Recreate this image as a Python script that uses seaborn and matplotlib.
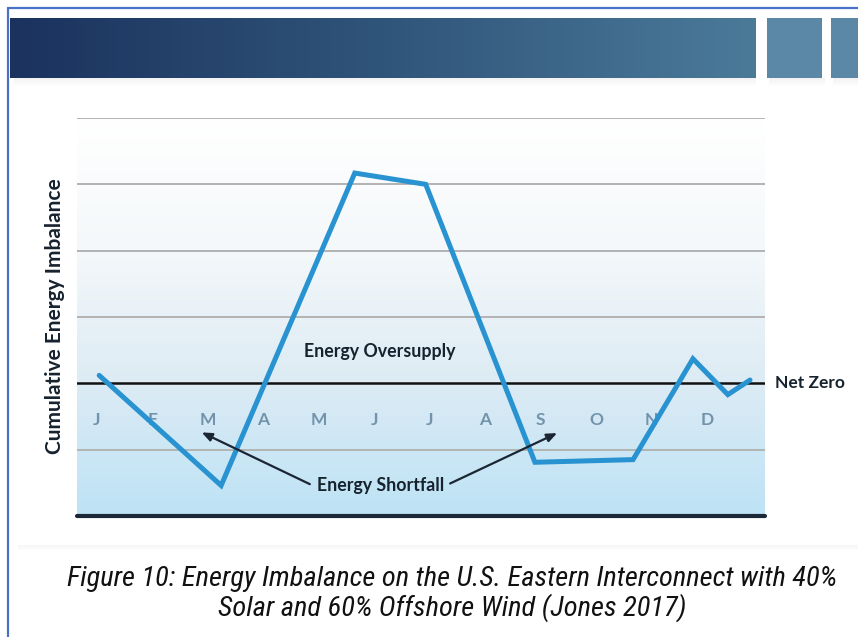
import numpy as np
import pandas as pd
import matplotlib
matplotlib.use("Agg")
import matplotlib.pyplot as plt
import matplotlib.transforms as mtrans
from matplotlib import font_manager
from matplotlib.colors import LinearSegmentedColormap
from matplotlib.patches import Rectangle
import seaborn as sns

# ---- data ----
months = ["J", "F", "M", "A", "M", "J", "J", "A", "S", "O", "N", "D"]
month_pos = [0, 1, 2, 3, 4, 5, 6, 7, 8, 9, 10, 11]
line_x = [0.04, 2.24, 4.65, 5.93, 7.90, 9.67, 10.75, 11.38, 11.78]
line_y = [0.12, -1.54, 3.17, 3.00, -1.19, -1.15, 0.37, -0.17, 0.05]
grid_levels = [-1, 1, 2, 3, 4]
net_zero = 0
ylabel = "Cumulative Energy Imbalance"
over_label = "Energy Oversupply"
short_label = "Energy Shortfall"
net_label = "Net Zero"
caption = ("Figure 10: Energy Imbalance on the U.S. Eastern Interconnect with 40%\n"
           "Solar and 60% Offshore Wind (Jones 2017)")

sns.set_style("white")

avail = {f.name for f in font_manager.fontManager.ttflist}
def pick(*names):
    for n in names:
        if n in avail:
            return n
    return "DejaVu Sans"

main_font = pick("Lato", "Open Sans", "DejaVu Sans")
cap_font = pick("Liberation Sans Narrow", "Roboto Condensed", "DejaVu Sans")
plt.rcParams["font.family"] = [main_font, "DejaVu Sans"]

W, H = 858, 637
fig = plt.figure(figsize=(W / 100, H / 100), dpi=100)
fig.patch.set_facecolor("white")

# ---- decorative page elements (figure coordinates) ----
bg = fig.add_axes([0, 0, 1, 1], zorder=-10)
bg.axis("off")
for i in range(6):
    bg.add_patch(Rectangle((18, 545 + i), W - 18, 1, color=(0, 0, 0, 0.035 * (6 - i) / 6), lw=0))
for i in range(8):
    a = 0.05 * (8 - i) / 8
    bg.add_patch(Rectangle((14, 78 + i), 742, 1, color=(0, 0, 0, a), lw=0))
    bg.add_patch(Rectangle((769, 78 + i), 56, 1, color=(0, 0, 0, a), lw=0))
    bg.add_patch(Rectangle((833, 78 + i), 30, 1, color=(0, 0, 0, a), lw=0))
hdr_cmap = LinearSegmentedColormap.from_list("hdr", ["#1b325e", "#30557a", "#4b7a99"])
grad = np.linspace(0, 1, 256).reshape(1, -1)
bg.imshow(grad, cmap=hdr_cmap, extent=[10, 756, 78, 18], aspect="auto", zorder=2)
bg.add_patch(Rectangle((767, 18), 55, 60, color="#5a88a6", lw=0, zorder=2))
bg.add_patch(Rectangle((831, 18), 40, 60, color="#5a88a6", lw=0, zorder=2))
bg.plot([8, 8], [8, H], color="#4a70c8", lw=1.6, zorder=3)
bg.plot([8, W], [8, 8], color="#4a70c8", lw=1.6, zorder=3)
bg.set_xlim(0, W)
bg.set_ylim(H, 0)

# ---- main chart ----
L, R, T, B = 77, 765, 118, 516
ax = fig.add_axes([L / W, 1 - B / H, (R - L) / W, (B - T) / H])
xmin, xmax = -0.36, 12.05
ymin, ymax = -2, 4
ax.set_xlim(xmin, xmax)
ax.set_ylim(ymin, ymax)

fill_cmap = LinearSegmentedColormap.from_list("fill", ["#ffffff", "#f4f8fa", "#dcebf4", "#bde3f6"])
vgrad = np.linspace(0, 1, 256).reshape(-1, 1)
ax.imshow(vgrad, cmap=fill_cmap, extent=[xmin, xmax, ymin, ymax], aspect="auto",
          origin="upper", zorder=0)

for g in grid_levels:
    ax.axhline(g, color="#b3b3b3", lw=1.4, zorder=1)
ax.axhline(net_zero, color="#111111", lw=1.8, zorder=2)
ax.axhline(ymin, color="#1b2838", lw=3, zorder=2, clip_on=False)

df = pd.DataFrame({"x": line_x, "y": line_y})
sns.lineplot(data=df, x="x", y="y", ax=ax, color="#2893d0", lw=3.6, sort=False,
             zorder=4, solid_joinstyle="miter")

for xp, m in zip(month_pos, months):
    ax.text(xp, -0.56, m, ha="center", va="center", fontsize=12.5, fontweight="bold",
            color="#7393ad", zorder=3)

ax.text(5.10, 0.48, over_label, ha="center", va="center", fontsize=12.8, fontweight="bold",
        color="#16222e", zorder=5)
ax.text(5.12, -1.54, short_label, ha="center", va="center", fontsize=12.8, fontweight="bold",
        color="#16222e", zorder=5)
arrow_kw = dict(arrowstyle="-|>,head_length=0.6,head_width=0.25", color="#1b2533", lw=1.6,
                shrinkA=0, shrinkB=0)
ax.annotate("", xy=(1.89, -0.74), xytext=(3.84, -1.52), arrowprops=arrow_kw, zorder=5)
ax.annotate("", xy=(8.30, -0.75), xytext=(6.37, -1.51), arrowprops=arrow_kw, zorder=5)

ax.text(775 / W, 0, net_label,
        transform=mtrans.blended_transform_factory(fig.transFigure, ax.transData),
        ha="left", va="center", fontsize=12.5, fontweight="bold", color="#16222e")

fig.text(55 / W, 1 - 316 / H, ylabel, rotation=90, ha="center", va="center",
         fontsize=15, fontweight="bold", color="#16222e")

ax.set_xlabel("")
ax.set_ylabel("")
ax.set_xticks([])
ax.set_yticks([])
for s in ax.spines.values():
    s.set_visible(False)

fig.text(452 / W, 1 - 594 / H, caption, ha="center", va="center", fontsize=20.5,
         style="italic", family=[cap_font, "DejaVu Sans"], color="#111111", linespacing=1.05)

fig.savefig("out.png", dpi=100, facecolor="white")
